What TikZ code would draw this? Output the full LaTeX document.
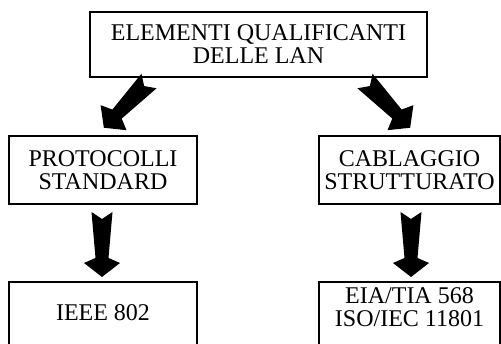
\documentclass[tikz,border=0pt]{standalone}
\usepackage{fontspec}
\setmainfont{Liberation Serif}
\begin{document}
\begin{tikzpicture}[x=1pt,y=-1pt,
  box/.style={draw, line width=1.8pt, inner sep=0pt, outer sep=0pt, align=center, font=\fontsize{24}{23}\selectfont},
  lbl/.style={inner sep=0pt, align=center, font=\fontsize{24}{23}\selectfont},
  blockarrow/.pic={\fill[black] (-10.5,0) -- (0,7) -- (10.5,0) -- (6.5,46) -- (18,51) -- (0,65) -- (-18,51) -- (-6.5,46) -- cycle;}
]
\useasboundingbox (0,0) rectangle (501,344);
\clip (0,0) rectangle (501,344);
% boxes
\node[box, minimum width=337pt, minimum height=65pt] (top) at (258.5,44.5) {ELEMENTI QUALIFICANTI\\DELLE LAN};
\node[box, minimum width=188pt, minimum height=68pt] (prot) at (103,170) {PROTOCOLLI\\STANDARD};
\node[box, minimum width=181pt, minimum height=68pt] (cabl) at (409.5,170) {CABLAGGIO\\STRUTTURATO};
\node[box, minimum width=188pt, minimum height=80pt, anchor=north] (ieeebox) at (103,282) {};
\node[box, minimum width=181pt, minimum height=80pt, anchor=north] (eiabox) at (409.5,282) {};
\node[lbl] (ieee) at (103,312.5) {IEEE 802};
\node[lbl] (eia) at (409.5,307) {EIA/TIA 568\\ISO/IEC 11801};
% block arrows
\coordinate (t1) at (149,81);
\coordinate (t2) at (365,81);
\coordinate (t3) at (102,212);
\coordinate (t4) at (411,212);
\pic[rotate=-44] at (t1) {blockarrow};
\pic[rotate=44] at (t2) {blockarrow};
\pic at (t3) {blockarrow};
\pic at (t4) {blockarrow};
\end{tikzpicture}
\end{document}
